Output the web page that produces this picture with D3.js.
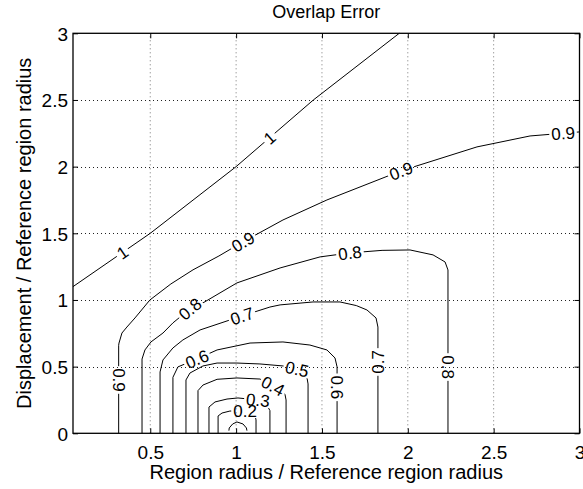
<!DOCTYPE html>
<html><head><meta charset="utf-8">
<script src="https://cdn.jsdelivr.net/npm/d3@7"></script>
<style>
body{margin:0;background:#fff;}
svg{display:block;font-family:"Liberation Sans",Arial,Helvetica,sans-serif;}
</style></head><body>
<svg id="chart" width="583" height="489"></svg>
<script>
// ---- data ----
const xDomain = [0.05, 3];
const yDomain = [0, 3];
const xTicks = [0.5, 1, 1.5, 2, 2.5, 3];
const yTicks = [0, 0.5, 1, 1.5, 2, 2.5, 3];
const xTickLabels = ["0.5", "1", "1.5", "2", "2.5", "3"];
const yTickLabels = ["0", "0.5", "1", "1.5", "2", "2.5", "3"];

const contour10 = [[0.05,1.10],[0.5,1.5],[1.0,2.0],[1.45,2.5],[1.95,3.0]];
const contour09 = [[0.316,0],[0.316,0.66],[0.318,0.677],[0.335,0.752],[0.364,0.797],[0.411,0.865],[0.498,1.0],[0.62,1.12],[0.749,1.226],[0.90,1.33],[1.04,1.436],[1.273,1.60],[1.529,1.75],[1.96,1.968],[2.403,2.148],[2.712,2.23],[2.997,2.26]];
const contour08 = [[0.452,0],[0.452,0.557],[0.469,0.625],[0.504,0.685],[0.574,0.752],[0.632,0.828],[0.731,0.933],[0.807,0.978],[1.005,1.128],[1.256,1.24],[1.489,1.323],[1.663,1.353],[1.85,1.372],[2.013,1.375],[2.147,1.338],[2.217,1.285],[2.234,1.225],[2.234,0]];
const contour07 = [[0.557,0],[0.557,0.46],[0.574,0.55],[0.632,0.64],[0.69,0.70],[0.79,0.775],[1.034,0.88],[1.197,0.947],[1.256,0.963],[1.448,0.985],[1.605,0.985],[1.70,0.958],[1.762,0.925],[1.815,0.865],[1.826,0.797],[1.826,0]];
const contour06 = [[0.632,0],[0.632,0.42],[0.661,0.498],[0.772,0.557],[0.889,0.625],[1.081,0.677],[1.273,0.685],[1.43,0.662],[1.529,0.625],[1.576,0.565],[1.588,0.498],[1.588,0]];
const contour05 = [[0.708,0],[0.708,0.40],[0.731,0.452],[0.807,0.505],[0.889,0.527],[1.005,0.527],[1.139,0.52],[1.273,0.505],[1.355,0.482],[1.39,0.452],[1.413,0.415],[1.419,0.37],[1.419,0]];
const contour04 = [[0.778,0],[0.778,0.32],[0.807,0.362],[0.889,0.405],[1.005,0.415],[1.139,0.407],[1.215,0.355],[1.267,0.325],[1.285,0.29],[1.291,0.25],[1.291,0]];
const contour03 = [[0.842,0],[0.842,0.197],[0.877,0.235],[0.947,0.257],[1.011,0.265],[1.127,0.25],[1.18,0.212],[1.197,0.17],[1.197,0]];
const contour02 = [[0.895,0],[0.895,0.13],[0.918,0.152],[0.964,0.167],[1.052,0.167],[1.110,0.137],[1.116,0.10],[1.116,0]];
const contour01 = [[0.958,0.02],[0.96,0.04],[0.98,0.07],[1.005,0.085],[1.04,0.07],[1.06,0.04],[1.063,0.02]];

const contourLevels = [1, 0.9, 0.8, 0.7, 0.6, 0.5, 0.4, 0.3, 0.2, 0.1];
const contourLines = [contour10, contour09, contour08, contour07, contour06, contour05, contour04, contour03, contour02, contour01];

const labelLevels = [1, 1, 0.9, 0.9, 0.9, 0.9, 0.8, 0.8, 0.8, 0.7, 0.7, 0.6, 0.6, 0.5, 0.4, 0.3, 0.2];
const labelX =      [0.335, 1.192, 0.316, 1.04, 1.96, 2.904, 0.731, 1.663, 2.234, 1.034, 1.826, 0.772, 1.588, 1.355, 1.215, 1.127, 1.052];
const labelY =      [1.36, 2.22, 0.40, 1.436, 1.968, 2.252, 0.933, 1.353, 0.497, 0.88, 0.535, 0.557, 0.345, 0.482, 0.355, 0.25, 0.167];

const titleText = "Overlap Error";
const xLabelText = "Region radius / Reference region radius";
const yLabelText = "Displacement / Reference region radius";

// ---- drawing ----
const m = {left: 73, right: 579.5, top: 33.3, bottom: 433.3};
const x = d3.scaleLinear().domain(xDomain).range([m.left, m.right]);
const y = d3.scaleLinear().domain(yDomain).range([m.bottom, m.top]);
const svg = d3.select("#chart");
svg.append("rect").attr("width", 583).attr("height", 489).attr("fill", "#fff");

// grid
const grid = svg.append("g").attr("fill", "none").attr("stroke", "#000")
  .attr("stroke-width", 1).attr("stroke-dasharray", "1,3");
xTicks.filter(v => v > xDomain[0] && v < xDomain[1]).forEach(v => {
  grid.append("line").attr("x1", x(v)).attr("x2", x(v)).attr("y1", m.bottom).attr("y2", m.top).attr("stroke", "#777");
});
yTicks.filter(v => v > yDomain[0] && v < yDomain[1]).forEach(v => {
  const yy = Math.round(y(v)) + 0.5;
  grid.append("line").attr("x1", m.left).attr("x2", m.right).attr("y1", yy).attr("y2", yy).attr("stroke", "#222");
});

// contours
const defs = svg.append("defs");
const mask = defs.append("mask").attr("id", "lblmask").attr("maskUnits", "userSpaceOnUse")
  .attr("x", 0).attr("y", 0).attr("width", 583).attr("height", 489);
mask.append("rect").attr("width", 583).attr("height", 489).attr("fill", "#fff");

const line = d3.line().x(d => x(d[0])).y(d => y(d[1]));
const cg = svg.append("g").attr("mask", "url(#lblmask)");
contourLines.forEach((pts, i) => {
  cg.append("path").attr("d", line(pts)).attr("fill", "none")
    .attr("stroke", "#000").attr("stroke-width", 1);
});

// labels
const upVertical = new Set([0.7]);
const lg = svg.append("g");
labelLevels.forEach((lv, i) => {
  const pts = contourLines[contourLevels.indexOf(lv)].map(d => [x(d[0]), y(d[1])]);
  const p = [x(labelX[i]), y(labelY[i])];
  let best = null;
  for (let k = 0; k < pts.length - 1; k++) {
    const a = pts[k], b = pts[k + 1];
    const dx = b[0] - a[0], dy = b[1] - a[1];
    const L2 = dx * dx + dy * dy || 1;
    let t = ((p[0] - a[0]) * dx + (p[1] - a[1]) * dy) / L2;
    t = Math.max(0, Math.min(1, t));
    const q = [a[0] + t * dx, a[1] + t * dy];
    const dist = Math.hypot(p[0] - q[0], p[1] - q[1]);
    if (!best || dist < best.dist) best = {dist, q, ang: Math.atan2(dy, dx) * 180 / Math.PI};
  }
  let ang = best.ang;
  while (ang > 90) ang -= 180;
  while (ang < -90) ang += 180;
  if (Math.abs(Math.abs(ang) - 90) < 2) ang = upVertical.has(lv) ? -90 : 90;
  const tr = `translate(${best.q[0]},${best.q[1]}) rotate(${ang})`;
  const t = lg.append("text").attr("transform", tr).attr("text-anchor", "middle")
    .attr("dy", "0.36em").attr("font-size", 17).attr("fill", "#000").text(String(lv));
  const bb = t.node().getBBox();
  mask.append("rect").attr("transform", tr)
    .attr("x", -bb.width / 2 - 2).attr("y", -7).attr("width", bb.width + 4).attr("height", 14)
    .attr("fill", "#000");
});

// box
svg.append("rect").attr("x", m.left).attr("y", m.top).attr("width", m.right - m.left)
  .attr("height", m.bottom - m.top).attr("fill", "none").attr("stroke", "#000").attr("stroke-width", 1.3);

// axes
const fontTick = 19;
const ax = svg.append("g").attr("transform", `translate(0,${m.bottom})`)
  .call(d3.axisBottom(x).tickValues(xTicks).tickFormat((d, i) => xTickLabels[i]).tickSizeInner(-5).tickSizeOuter(0).tickPadding(12));
const ay = svg.append("g").attr("transform", `translate(${m.left},0)`)
  .call(d3.axisLeft(y).tickValues(yTicks).tickFormat((d, i) => yTickLabels[i]).tickSizeInner(-5).tickSizeOuter(0).tickPadding(5));
const at = svg.append("g").attr("transform", `translate(0,${m.top})`)
  .call(d3.axisTop(x).tickValues(xTicks).tickFormat("").tickSizeInner(-5).tickSizeOuter(0));
const ar = svg.append("g").attr("transform", `translate(${m.right},0)`)
  .call(d3.axisRight(y).tickValues(yTicks).tickFormat("").tickSizeInner(-5).tickSizeOuter(0));
[ax, ay, at, ar].forEach(g => {
  g.select(".domain").remove();
  g.selectAll("text").attr("font-size", fontTick).attr("font-family", null).attr("fill", "#000");
  g.selectAll("line").attr("stroke", "#000");
  g.attr("font-family", null);
});
ay.selectAll("text").attr("dy", "0.36em");

// title and axis labels
svg.append("text").attr("x", (m.left + m.right) / 2).attr("y", 17.5).attr("text-anchor", "middle")
  .attr("font-size", 18).text(titleText);
svg.append("text").attr("x", (m.left + m.right) / 2).attr("y", 479).attr("text-anchor", "middle")
  .attr("font-size", 20).text(xLabelText);
svg.append("text").attr("transform", `translate(31,${(m.top + m.bottom) / 2}) rotate(-90)`)
  .attr("text-anchor", "middle").attr("font-size", 20).text(yLabelText);
</script>
</body></html>
